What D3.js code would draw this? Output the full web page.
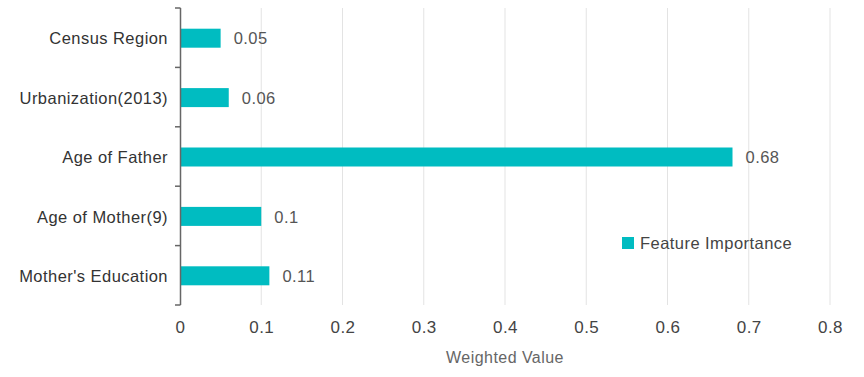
<!DOCTYPE html>
<html lang="en">
<head>
    <meta charset="UTF-8">
    <title>Feature Importance</title>
    <script src="https://d3js.org/d3.v7.min.js"></script>
    <style>
        body { margin: 0; background: #fff; }
        svg text { font-family: "Liberation Sans", Arial, Helvetica, sans-serif; letter-spacing: 0.45px; }
    </style>
</head>
<body>
    <div id="chart"></div>
    <script>
        // data
        const features = ["Census Region", "Urbanization(2013)", "Age of Father", "Age of Mother(9)", "Mother's Education"];
        const importance = [0.05, 0.06, 0.68, 0.1, 0.11];
        const xTicks = [0, 0.1, 0.2, 0.3, 0.4, 0.5, 0.6, 0.7, 0.8];

        const width = 864, height = 377;
        const margin = { top: 8, right: 34, bottom: 72, left: 180 };

        const svg = d3.select("#chart").append("svg")
            .attr("width", width)
            .attr("height", height);

        const x = d3.scaleLinear()
            .domain([0, 0.8])
            .range([margin.left, width - margin.right]);

        const y = d3.scaleBand()
            .domain(features)
            .range([margin.top, height - margin.bottom]);

        const barH = 19;

        // vertical grid lines
        svg.append("g")
            .selectAll("line")
            .data(xTicks.filter(d => d > 0))
            .join("line")
            .attr("x1", d => x(d)).attr("x2", d => x(d))
            .attr("y1", margin.top).attr("y2", height - margin.bottom)
            .attr("stroke", "#e3e3e3")
            .attr("stroke-width", 1);

        // bars
        svg.append("g")
            .selectAll("rect")
            .data(features)
            .join("rect")
            .attr("x", x(0))
            .attr("y", d => y(d) + y.bandwidth() / 2 - barH / 2 + 0.5)
            .attr("width", (d, i) => x(importance[i]) - x(0))
            .attr("height", barH)
            .attr("fill", "#00bcc1");

        // value labels
        svg.append("g")
            .selectAll("text")
            .data(features)
            .join("text")
            .attr("x", (d, i) => x(importance[i]) + 13)
            .attr("y", d => y(d) + y.bandwidth() / 2 + 1)
            .attr("dy", "0.35em")
            .attr("font-size", 16.5)
            .attr("fill", "#555")
            .text((d, i) => importance[i]);

        // y axis
        const yAxis = svg.append("g")
            .attr("transform", `translate(${margin.left},0)`);
        const tickYs = features.map(d => y(d)).concat([y.range()[1]]);
        yAxis.append("line")
            .attr("x1", 0.5).attr("x2", 0.5)
            .attr("y1", margin.top).attr("y2", height - margin.bottom)
            .attr("stroke", "#666").attr("stroke-width", 1.5);
        yAxis.selectAll("line.tick")
            .data(tickYs)
            .join("line")
            .attr("class", "tick")
            .attr("x1", -5).attr("x2", 0.5)
            .attr("y1", d => d).attr("y2", d => d)
            .attr("stroke", "#666").attr("stroke-width", 1.5);
        yAxis.selectAll("text")
            .data(features)
            .join("text")
            .attr("x", -12)
            .attr("y", d => y(d) + y.bandwidth() / 2 + 1)
            .attr("dy", "0.35em")
            .attr("text-anchor", "end")
            .attr("font-size", 16.5)
            .attr("fill", "#333")
            .text(d => d);

        // x axis labels
        const xAxis = d3.axisBottom(x)
            .tickValues(xTicks)
            .tickFormat(d3.format("~g"))
            .tickSize(0)
            .tickPadding(0);
        const gx = svg.append("g")
            .attr("transform", `translate(0,${height - margin.bottom})`)
            .call(xAxis);
        gx.select(".domain").remove();
        gx.selectAll("text")
            .attr("y", 28)
            .attr("dy", null)
            .attr("font-size", 17)
            .attr("fill", "#444")
            .style("font-family", "Liberation Sans, Arial, sans-serif");

        svg.append("text")
            .attr("x", (x(0) + x(0.8)) / 2)
            .attr("y", 363)
            .attr("text-anchor", "middle")
            .attr("font-size", 16)
            .attr("fill", "#666")
            .text("Weighted Value");

        // legend
        const legend = svg.append("g").attr("transform", "translate(622,237)");
        legend.append("rect")
            .attr("width", 12).attr("height", 12)
            .attr("fill", "#00bcc1");
        legend.append("text")
            .attr("x", 18).attr("y", 6.5)
            .attr("dy", "0.35em")
            .attr("font-size", 16.5)
            .attr("fill", "#444")
            .text("Feature Importance");
    </script>
</body>
</html>
